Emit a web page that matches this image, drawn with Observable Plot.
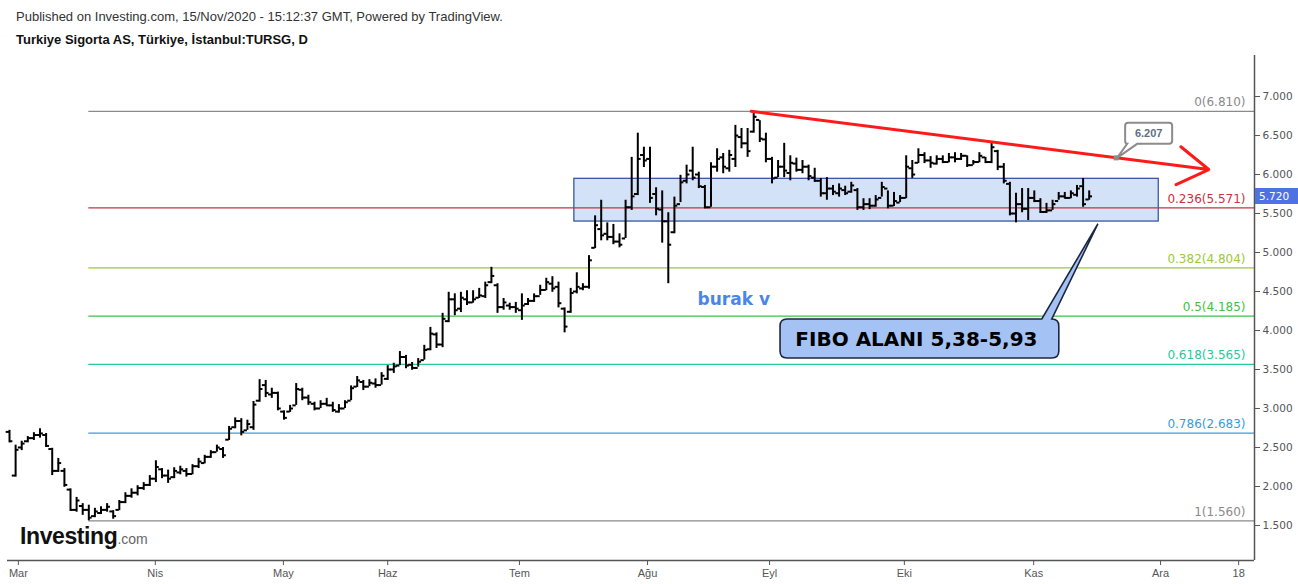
<!DOCTYPE html>
<html><head><meta charset="utf-8">
<script src="https://cdn.jsdelivr.net/npm/d3@7"></script>
<script src="https://cdn.jsdelivr.net/npm/@observablehq/plot@0.6"></script>
<style>
body{margin:0;background:#fff;}
#wrap{position:relative;width:1298px;height:584px;overflow:hidden;font-family:"Liberation Sans",Arial,sans-serif;}
#chart{position:absolute;left:0;top:0;}
#pub{position:absolute;left:16px;top:9px;font-size:13px;color:#333;white-space:nowrap;}
#ttl{position:absolute;left:16px;top:32px;font-size:13px;font-weight:bold;color:#111;white-space:nowrap;}
#logo{position:absolute;left:20px;top:523px;white-space:nowrap;}
#logo .a{font-size:23px;font-weight:bold;color:#111;letter-spacing:-0.4px;}
#logo .b{font-size:14px;color:#666;}
#tag{position:absolute;height:16px;line-height:16px;background:#4f72e3;color:#fff;font-family:"DejaVu Sans",Verdana,sans-serif;font-size:10.5px;padding-left:4px;box-sizing:border-box;white-space:nowrap;}
</style></head><body>
<div id="wrap">
<div id="chart"></div>
<div id="pub">Published on Investing.com, 15/Nov/2020 - 15:12:37 GMT, Powered by TradingView.</div>
<div id="ttl">Turkiye Sigorta AS, Türkiye, İstanbul:TURSG, D</div>
<div id="logo"><span class="a">Investing</span><span class="b">.com</span></div>
<div id="tag"></div>
</div>
<script>
// ---- data (daily OHLC bars, in bar order) ----
const opens = [
2.70,2.14,2.50,2.58,2.62,2.66,2.66,2.48,2.20,2.20,
1.96,1.70,1.75,1.70,1.62,1.66,1.70,1.68,1.70,1.80,
1.88,1.92,1.98,2.02,2.10,2.22,2.14,2.12,2.18,2.20,
2.16,2.26,2.30,2.38,2.44,2.48,2.60,2.76,2.84,2.72,
2.76,3.10,3.30,3.18,3.20,2.96,2.96,3.04,3.24,3.14,
3.06,3.00,3.06,3.04,2.96,3.00,3.10,3.28,3.34,3.28,
3.32,3.30,3.38,3.50,3.55,3.66,3.56,3.52,3.62,3.76,
3.95,3.82,4.12,4.40,4.28,4.40,4.36,4.42,4.44,4.62,
4.58,4.30,4.32,4.30,4.26,4.34,4.38,4.44,4.52,4.60,
4.56,4.28,4.24,4.50,4.54,4.56,5.06,5.30,5.24,5.20,
5.14,5.18,5.58,5.75,6.25,6.20,5.75,5.55,5.40,5.26,
5.62,5.92,6.05,6.00,5.84,5.58,6.10,6.22,6.08,6.20,
6.48,6.40,6.55,6.70,6.45,6.20,5.96,6.10,6.02,6.14,
6.06,6.10,5.96,5.92,5.76,5.82,5.76,5.80,5.78,5.80,
5.58,5.62,5.60,5.70,5.82,5.60,5.64,5.70,6.08,6.15,
6.25,6.18,6.14,6.20,6.16,6.22,6.20,6.24,6.12,6.16,
6.22,6.16,6.30,6.10,5.88,5.50,5.62,5.56,5.70,5.66,
5.52,5.54,5.66,5.72,5.70,5.74,5.85,5.68];
const highs = [
2.72,2.53,2.58,2.64,2.69,2.74,2.68,2.49,2.36,2.23,
1.97,1.86,1.78,1.76,1.72,1.74,1.78,1.69,1.82,1.92,
1.97,2.01,2.05,2.14,2.33,2.23,2.21,2.24,2.26,2.23,
2.28,2.36,2.40,2.46,2.53,2.50,2.77,2.88,2.87,2.85,
3.09,3.37,3.36,3.26,3.21,2.97,3.04,3.32,3.26,3.17,
3.08,3.10,3.13,3.08,3.05,3.10,3.29,3.41,3.36,3.37,
3.38,3.46,3.55,3.58,3.73,3.68,3.59,3.64,3.81,4.04,
3.97,4.22,4.49,4.47,4.49,4.51,4.51,4.54,4.62,4.81,
4.60,4.41,4.35,4.36,4.47,4.41,4.47,4.58,4.67,4.69,
4.62,4.29,4.54,4.74,4.60,4.96,5.47,5.67,5.38,5.36,
5.24,5.67,6.22,6.53,6.35,6.35,5.83,5.79,5.51,5.71,
5.99,6.12,6.35,6.03,5.86,6.15,6.33,6.27,6.31,6.63,
6.59,6.59,6.81,6.69,6.53,6.22,6.18,6.40,6.24,6.21,
6.18,6.12,6.08,5.95,5.96,5.86,5.88,5.85,5.90,5.82,
5.69,5.69,5.73,5.90,5.79,5.77,5.73,6.24,6.18,6.33,
6.28,6.23,6.24,6.24,6.27,6.28,6.27,6.24,6.18,6.28,
6.22,6.41,6.31,6.14,5.90,5.76,5.82,5.82,5.79,5.69,
5.63,5.67,5.77,5.77,5.79,5.86,5.95,5.79];
const lows = [
2.56,2.12,2.46,2.56,2.59,2.62,2.50,2.14,2.18,1.99,
1.68,1.67,1.63,1.56,1.60,1.64,1.67,1.58,1.69,1.78,
1.85,1.88,1.95,2.00,2.05,2.10,2.04,2.10,2.15,2.12,
2.15,2.23,2.29,2.36,2.44,2.36,2.59,2.74,2.65,2.72,
2.72,3.08,3.14,3.13,2.97,2.85,2.95,3.04,3.10,3.04,
2.97,3.00,3.03,2.95,2.94,3.00,3.10,3.27,3.23,3.28,
3.26,3.30,3.36,3.45,3.55,3.51,3.49,3.53,3.62,3.74,
3.77,3.78,4.10,4.19,4.23,4.32,4.35,4.41,4.41,4.60,
4.22,4.26,4.26,4.22,4.13,4.32,4.36,4.45,4.51,4.49,
4.29,3.97,4.22,4.47,4.51,4.53,5.05,5.15,5.15,5.10,
5.06,5.18,5.54,5.73,6.09,5.63,5.47,5.12,4.60,5.24,
5.64,5.88,5.92,5.82,5.56,5.58,6.03,6.01,6.03,6.09,
6.33,6.22,6.53,6.41,6.15,5.88,5.96,5.96,5.92,6.03,
6.01,5.92,5.90,5.71,5.67,5.73,5.71,5.73,5.76,5.54,
5.54,5.55,5.58,5.71,5.56,5.59,5.64,5.69,5.95,6.14,
6.14,6.08,6.12,6.14,6.15,6.15,6.18,6.09,6.12,6.15,
6.14,6.14,6.05,5.88,5.47,5.38,5.51,5.41,5.64,5.50,
5.50,5.54,5.67,5.69,5.69,5.71,5.58,5.67];
const closes = [
2.58,2.47,2.55,2.62,2.66,2.68,2.52,2.20,2.30,2.02,
1.70,1.82,1.70,1.60,1.68,1.70,1.74,1.62,1.80,1.88,
1.92,1.98,2.02,2.10,2.25,2.14,2.10,2.20,2.22,2.16,
2.26,2.32,2.38,2.44,2.50,2.40,2.74,2.84,2.70,2.80,
3.05,3.25,3.20,3.20,3.00,2.88,3.00,3.25,3.14,3.08,
3.00,3.06,3.04,2.98,3.00,3.08,3.26,3.36,3.28,3.33,
3.30,3.42,3.50,3.54,3.66,3.55,3.52,3.60,3.75,3.96,
3.82,4.15,4.40,4.26,4.42,4.36,4.40,4.45,4.58,4.70,
4.30,4.36,4.30,4.28,4.32,4.38,4.44,4.52,4.62,4.54,
4.35,4.05,4.48,4.56,4.56,4.90,5.35,5.22,5.20,5.14,
5.10,5.58,5.72,6.20,6.18,5.70,5.56,5.40,5.10,5.60,
5.90,6.00,5.96,5.85,5.58,6.10,6.20,6.10,6.25,6.50,
6.40,6.30,6.74,6.46,6.20,5.95,6.10,6.05,6.15,6.06,
6.10,5.98,5.92,5.76,5.82,5.78,5.82,5.76,5.86,5.58,
5.62,5.60,5.68,5.84,5.60,5.66,5.70,6.10,6.00,6.25,
6.18,6.15,6.20,6.16,6.22,6.20,6.24,6.12,6.16,6.24,
6.16,6.35,6.10,5.92,5.50,5.62,5.56,5.70,5.66,5.52,
5.54,5.62,5.72,5.70,5.76,5.82,5.62,5.72];

// month tick labels and their bar positions
const monthLabels = ["Mar","Nis","May","Haz","Tem","Ağu","Eyl","Eki","Kas","Ara","18"];
const monthTickIdx = [1.45,23.9,44.9,62.0,83.6,104.6,124.6,146.7,167.9,188.7,201.5];
const yTicks = [1.5,2,2.5,3,3.5,4,4.5,5,5.5,6,6.5,7];

// Fibonacci retracement levels
const fibRatios = ["0","0.236","0.382","0.5","0.618","0.786","1"];
const fibValues = [6.810,5.571,4.804,4.185,3.565,2.683,1.560];
const fibColors = ["#8a8a8a","#c8323c","#9cc83c","#3fc23f","#26c99a","#3a9bd8","#8a8a8a"];
const fibStartIdx = 13;

// drawn annotations
const zone = {x1: 92.6, x2: 188.4, top: 5.945, bottom: 5.397};
const trend = {x1: 121.6, y1: 6.81, x2: 196.6, y2: 6.064};
const trendPoint = {x: 181.5, value: 6.207};
const lastClose = 5.720;
const fiboNote = {text: "FIBO ALANI 5,38-5,93", x1: 126.4, x2: 172.1, top: 4.141, bottom: 3.641, tipX: 178.5, tipY: 5.36};
const author = {text: "burak v", x: 112.8, y: 4.40};

const bars = opens.map((o, i) => ({i, open: o, high: highs[i], low: lows[i], close: closes[i]}));
const fib = fibValues.map((v, k) => ({value: v, color: fibColors[k], label: `${fibRatios[k]}(${v.toFixed(3)})`}));
const xDomain = [-0.33, 204.1];
const yDomain = [1.051, 7.526];

function overlay(index, scales, values, dims) {
  const X = scales.x, Y = scales.y;
  const g = d3.create("svg:g");
  // FIBO speech bubble
  const bx1 = X(fiboNote.x1), bx2 = X(fiboNote.x2), by1 = Y(fiboNote.top), by2 = Y(fiboNote.bottom);
  const tx = X(fiboNote.tipX), ty = Y(fiboNote.tipY), r = 7;
  const bl = bx2 - 17, br = bx2 - 7;
  const p = `M${bx1+r},${by1} L${bl},${by1} L${tx},${ty} L${br},${by1} L${bx2-r},${by1} Q${bx2},${by1} ${bx2},${by1+r} L${bx2},${by2-r} Q${bx2},${by2} ${bx2-r},${by2} L${bx1+r},${by2} Q${bx1},${by2} ${bx1},${by2-r} L${bx1},${by1+r} Q${bx1},${by1} ${bx1+r},${by1} Z`;
  g.append("path").attr("d", p).attr("fill", "#a4c2f4").attr("stroke", "#1b2740").attr("stroke-width", 1.6);
  g.append("text").attr("x", (bx1+bx2)/2 - 3).attr("y", (by1+by2)/2).attr("dy", "0.36em")
    .attr("text-anchor", "middle").attr("font-family", "DejaVu Sans, Verdana, sans-serif")
    .attr("font-weight", "bold").attr("font-size", 20).attr("fill", "#000").text(fiboNote.text);
  // price callout on trend line
  const px = X(trendPoint.x), py = Y(trendPoint.value);
  const cx1 = px + 9, cx2 = px + 56, cy1 = py - 35, cy2 = py - 14, cr = 3;
  const cp = `M${cx1+cr},${cy1} L${cx2-cr},${cy1} Q${cx2},${cy1} ${cx2},${cy1+cr} L${cx2},${cy2-cr} Q${cx2},${cy2} ${cx2-cr},${cy2} L${px+21},${cy2} L${px+1},${py} L${px+11},${cy2} Q${cx1},${cy2} ${cx1},${cy2-cr} L${cx1},${cy1+cr} Q${cx1},${cy1} ${cx1+cr},${cy1} Z`;
  g.append("path").attr("d", cp).attr("fill", "#fff").attr("stroke", "#8c8c8c").attr("stroke-width", 2);
  g.append("rect").attr("x", px - 2.5).attr("y", py - 2.5).attr("width", 5).attr("height", 5).attr("fill", "#8c8c8c");
  g.append("text").attr("x", (cx1+cx2)/2).attr("y", (cy1+cy2)/2).attr("dy", "0.36em")
    .attr("text-anchor", "middle").attr("font-weight", "bold").attr("font-size", 11)
    .attr("font-family", "Liberation Sans, Arial, sans-serif").attr("fill", "#5f6f80").text(trendPoint.value.toFixed(3));
  return g.node();
}

const chart = Plot.plot({
  width: 1298, height: 584,
  marginLeft: 7, marginRight: 44, marginTop: 55, marginBottom: 24,
  x: {domain: xDomain, axis: null},
  y: {domain: yDomain, axis: null},
  color: {type: "identity"},
  style: {fontFamily: "Liberation Sans, Arial, sans-serif", fontSize: "11px", color: "#555", background: "transparent", overflow: "visible"},
  marks: [
    Plot.rect([zone], {x1: "x1", x2: "x2", y1: "bottom", y2: "top", fill: "#d4e2f7", stroke: "#2b4aa0", strokeWidth: 1.2}),
    Plot.ruleY(fib, {y: "value", x1: fibStartIdx, x2: xDomain[1], stroke: "color", strokeWidth: 1.2}),
    Plot.text(fib, {y: "value", text: "label", frameAnchor: "right", textAnchor: "end", dx: -9, dy: -9, fill: "color", fontSize: 12, fontFamily: "DejaVu Sans, Verdana, sans-serif"}),
    Plot.ruleX(bars, {x: "i", y1: "low", y2: "high", stroke: "#000", strokeWidth: 2}),
    Plot.ruleY(bars, {y: "open", x1: d => d.i - 0.55, x2: "i", stroke: "#000", strokeWidth: 2}),
    Plot.ruleY(bars, {y: "close", x1: "i", x2: d => d.i + 0.55, stroke: "#000", strokeWidth: 2}),
    Plot.arrow([trend], {x1: "x1", y1: "y1", x2: "x2", y2: "y2", stroke: "#ff1a1a", strokeWidth: 3, headLength: 18, headAngle: 64}),
    Plot.text([author], {x: "x", y: "y", text: "text", textAnchor: "start", fill: "#4a86e8", fontSize: 17, fontWeight: "bold", fontFamily: "DejaVu Sans, Verdana, sans-serif"}),
    Plot.ruleY([yDomain[0]], {stroke: "#555", strokeWidth: 1.5}),
    Plot.ruleX([xDomain[1]], {stroke: "#555", strokeWidth: 1.5}),
    Plot.axisY(yTicks, {anchor: "right", tickFormat: d3.format(".3f"), tickSize: 5, tickPadding: 3, fontSize: 10.5, fontFamily: "DejaVu Sans, Verdana, sans-serif", color: "#555"}),
    Plot.axisX(monthTickIdx, {anchor: "bottom", tickFormat: d => monthLabels[monthTickIdx.indexOf(d)], tickSize: 5, tickPadding: 4, fontSize: 11, color: "#555"}),
    overlay
  ]
});
document.getElementById("chart").appendChild(chart);

// last-price tag on the right axis, positioned through the chart's scales
const tagY = chart.scale("y").apply(lastClose), axX = chart.scale("x").apply(xDomain[1]);
const tagEl = document.getElementById("tag");
tagEl.style.left = (axX + 1) + "px";
tagEl.style.top = (tagY - 8) + "px";
tagEl.style.width = (1298 - axX - 1) + "px";
tagEl.textContent = lastClose.toFixed(3);
</script>
</body></html>
